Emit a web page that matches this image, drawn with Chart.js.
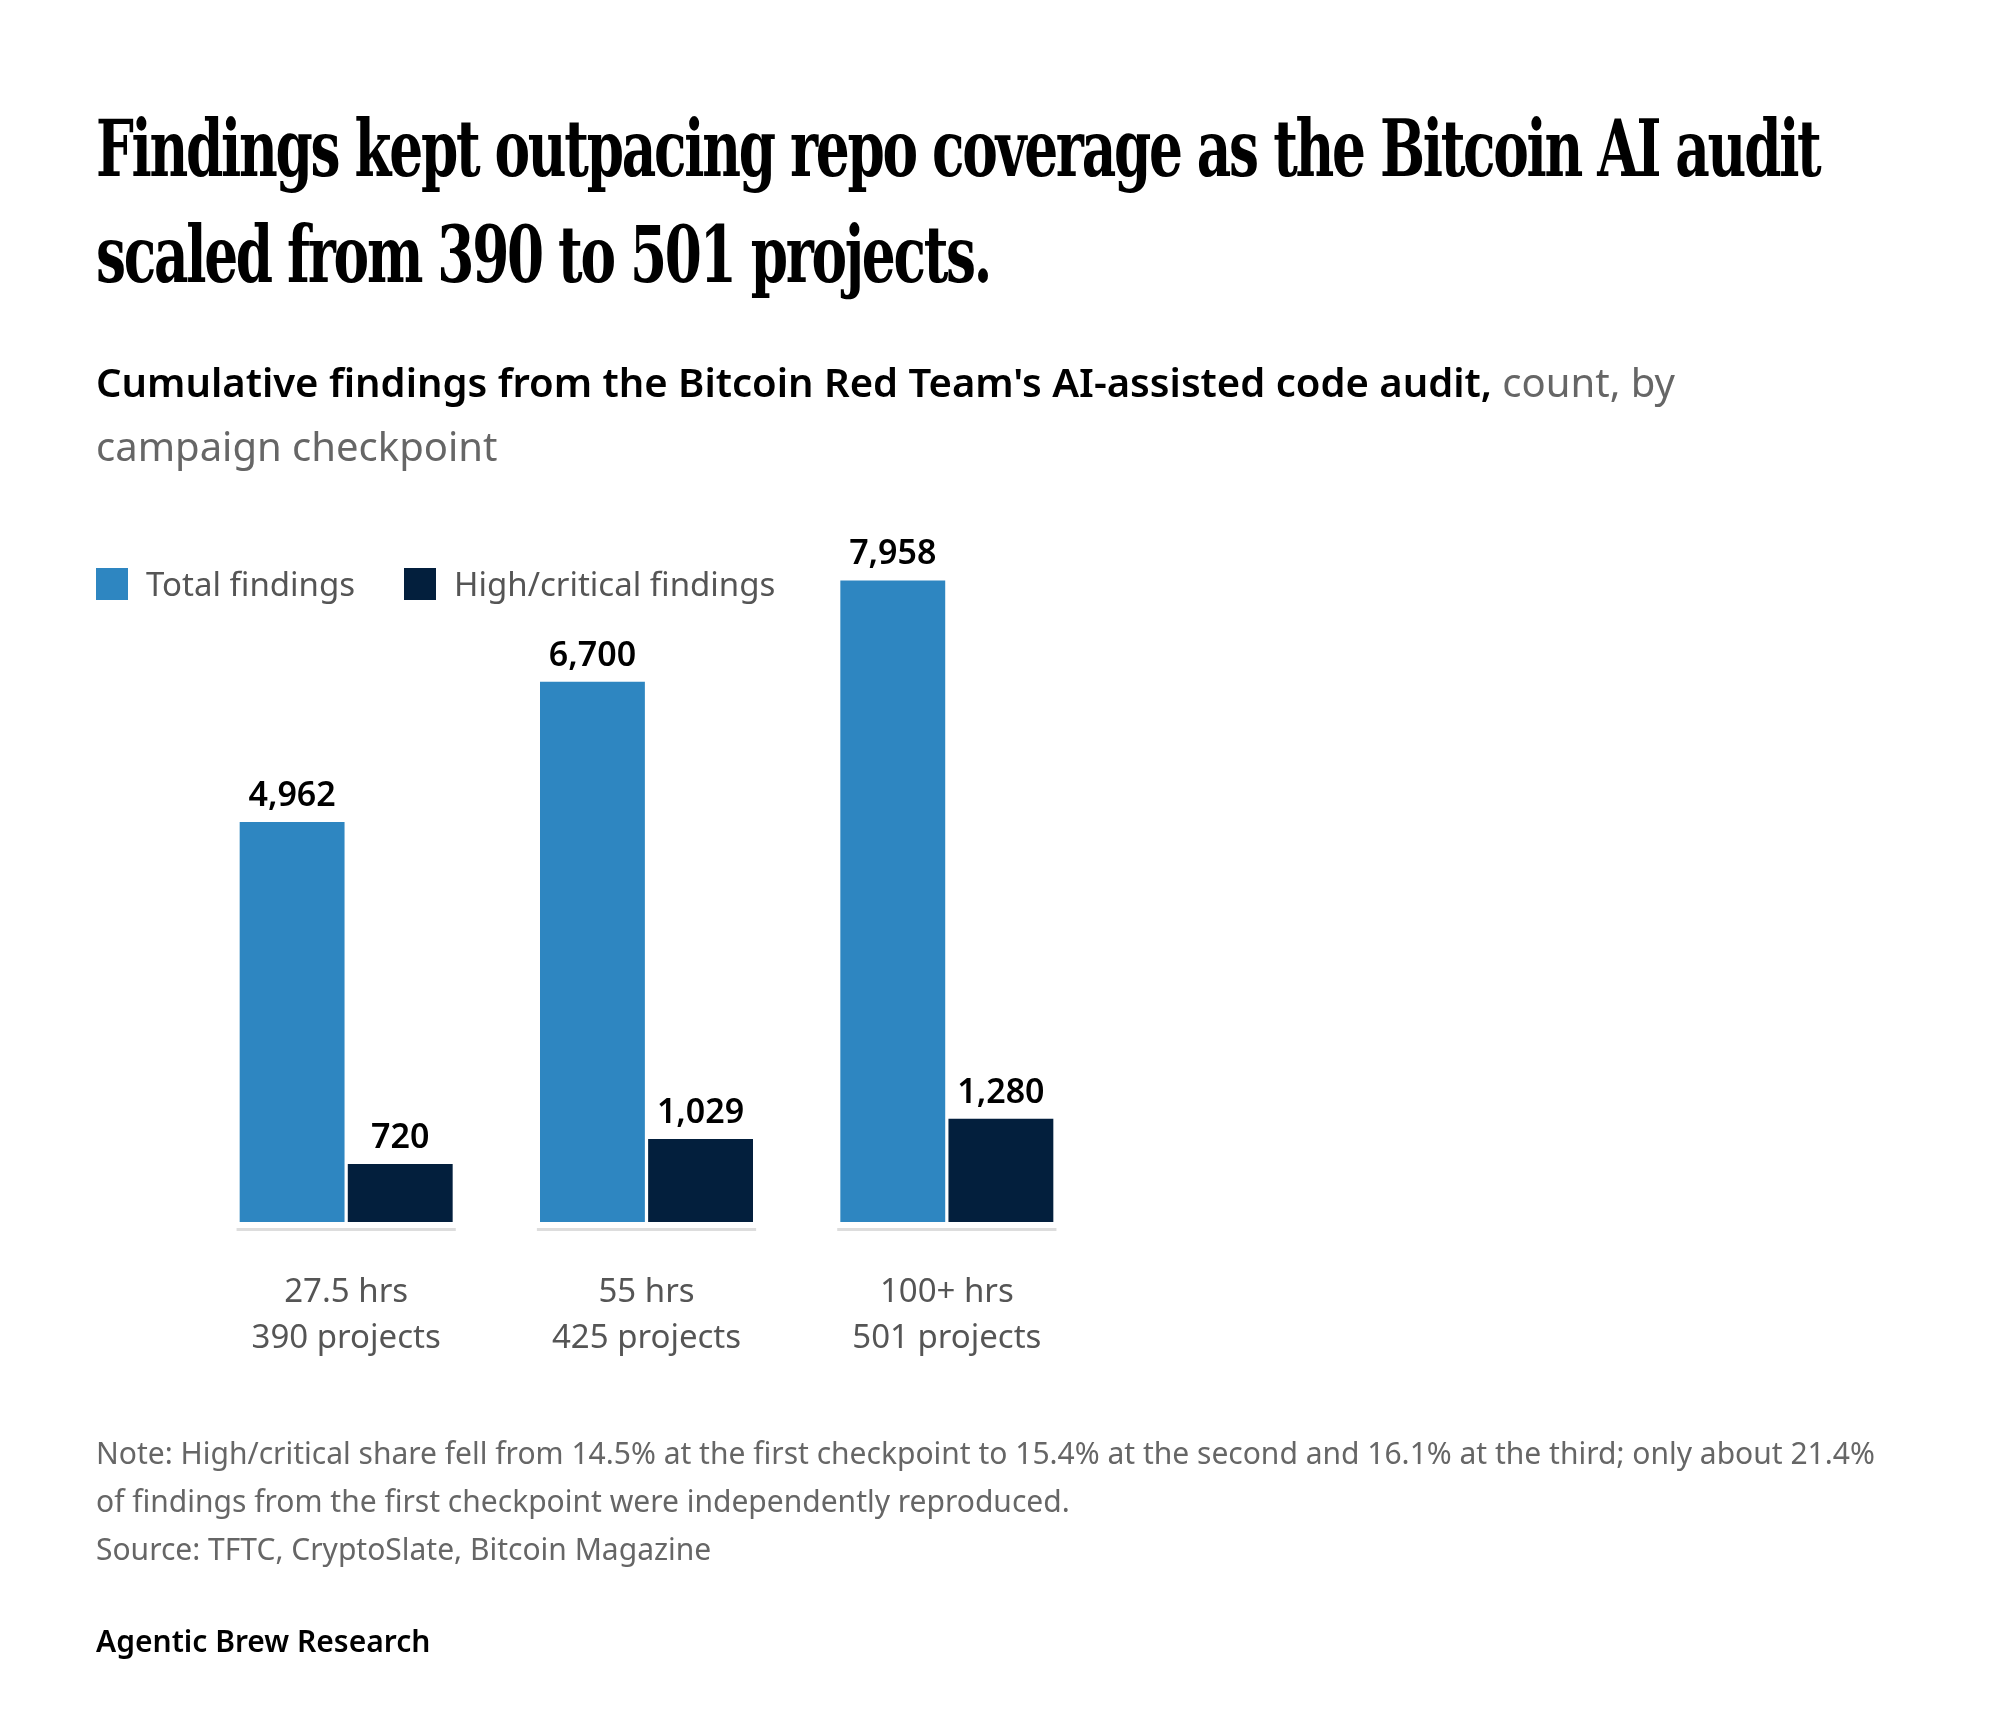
<!DOCTYPE html>
<html>
<head>
<meta charset="utf-8">
<script src="https://cdn.jsdelivr.net/npm/chart.js@4"></script>
<style>
  body { margin: 0; background: #fff; width: 2000px; height: 1732px; position: relative; overflow: hidden; font-family: "Noto Sans", sans-serif; }
  #wrap { position: absolute; left: 0; top: 0; width: 2000px; height: 1732px; }
  .t { position: absolute; left: 96px; }
  h1 { position: absolute; left: 96px; top: 96px; margin: 0; white-space: nowrap; font-family: "DejaVu Serif Condensed", "Liberation Serif", serif; font-weight: bold; font-size: 78px; line-height: 106px; letter-spacing: -3px; color: #000; transform: scaleX(0.76); transform-origin: left top; }
  #sub { top: 350px; width: 1730px; font-size: 40px; line-height: 64px; color: #666; }
  #sub b { color: #000; font-weight: 600; }
  #note { top: 1429px; font-size: 30px; line-height: 48px; color: #666; width: 1800px; }
  #brand { top: 1620px; font-size: 30px; font-weight: 600; color: #000; }
  .leg { position: absolute; top: 561px; font-size: 33px; color: #555; display: flex; align-items: center; }
  .leg span { display: inline-block; width: 32px; height: 32px; margin-right: 18px; }
</style>
</head>
<body>
<div id="wrap"><canvas id="c" width="2000" height="1732"></canvas></div>
<h1>Findings kept outpacing repo coverage as the Bitcoin AI audit<br>scaled from 390 to 501 projects.</h1>
<div class="t" id="sub"><b>Cumulative findings from the Bitcoin Red Team's AI-assisted code audit,</b> count, by campaign checkpoint</div>
<div class="leg" style="left:96px"><span style="background:#2e86c1"></span>Total findings</div>
<div class="leg" style="left:404px"><span style="background:#031f3d"></span>High/critical findings</div>
<div class="t" id="note">Note: High/critical share fell from 14.5% at the first checkpoint to 15.4% at the second and 16.1% at the third; only about 21.4% of findings from the first checkpoint were independently reproduced.<br>Source: TFTC, CryptoSlate, Bitcoin Magazine</div>
<div class="t" id="brand">Agentic Brew Research</div>
<script>
const checkpoints = [["27.5 hrs", "390 projects"], ["55 hrs", "425 projects"], ["100+ hrs", "501 projects"]];
const totalFindings = [4962, 6700, 7958];
const highCritical = [720, 1029, 1280];

const extras = {
  id: "extras",
  afterDatasetsDraw(chart) {
    const ctx = chart.ctx;
    const x = chart.scales.x;
    ctx.save();
    ctx.textAlign = "center";
    // value labels
    ctx.fillStyle = "#000";
    ctx.font = "600 34px 'Noto Sans'";
    chart.data.datasets.forEach((ds, i) => {
      chart.getDatasetMeta(i).data.forEach((bar, j) => {
        ctx.fillText(ds.data[j].toLocaleString("en-US"), bar.x, bar.y - 16);
      });
    });
    // baseline segments and category labels
    const half = x.width / checkpoints.length * 0.73 / 2;
    const base = chart.chartArea.bottom;
    checkpoints.forEach((lines, j) => {
      const cx = x.getPixelForValue(j);
      ctx.fillStyle = "#ddd";
      ctx.fillRect(cx - half, base + 6, half * 2, 3);
      ctx.fillStyle = "#555";
      ctx.font = "33px 'Noto Sans'";
      ctx.fillText(lines[0], cx, base + 80);
      ctx.fillText(lines[1], cx, base + 126);
    });
    ctx.restore();
  }
};

new Chart(document.getElementById("c"), {
  type: "bar",
  data: {
    labels: checkpoints.map((c) => c.join(" ")),
    datasets: [
      { label: "Total findings", data: totalFindings, backgroundColor: "#2e86c1", categoryPercentage: 0.72, barPercentage: 0.97 },
      { label: "High/critical findings", data: highCritical, backgroundColor: "#031f3d", categoryPercentage: 0.72, barPercentage: 0.97 },
    ],
  },
  options: {
    responsive: false,
    animation: false,
    layout: { padding: { left: 196, right: 903, top: 577, bottom: 510 } },
    plugins: { legend: { display: false }, tooltip: { enabled: false } },
    scales: {
      x: { display: false },
      y: { display: false, min: 0, max: 8000 },
    },
  },
  plugins: [extras],
});
</script>
</body>
</html>
